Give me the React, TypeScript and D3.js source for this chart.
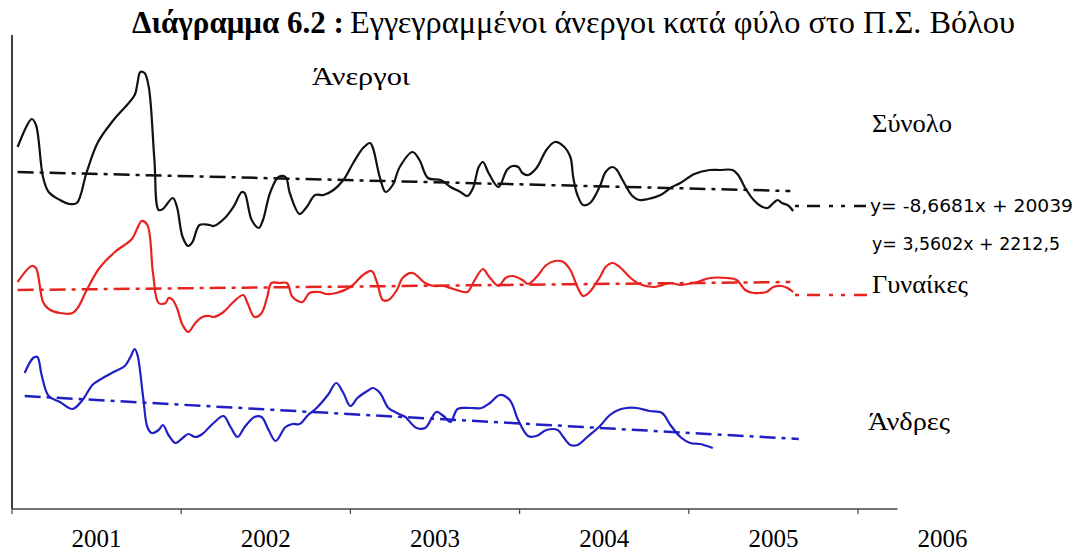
import React from "react";
import * as d3 from "d3";

// Month offset (0 = start of 2001) and relative level (no y-axis scale shown)
const totalSeries: [number, number][] = [
  [0.4, 362], [1.4, 390], [1.7, 384], [2.2, 332], [2.6, 317], [3.4, 309], [4.1, 305], [4.6, 306],
  [5.3, 337], [6.1, 367], [7.2, 389], [8.7, 414], [8.9, 426], [9.1, 437], [9.4, 436], [9.7, 422],
  [10.1, 349], [10.4, 299], [10.7, 300], [11.4, 311], [11.7, 302], [12.1, 272], [12.5, 263], [12.8, 267],
  [13.3, 284], [14.0, 284], [14.3, 283], [15.1, 291], [15.7, 302], [16.3, 317], [16.5, 316], [17.0, 289],
  [17.5, 281], [17.8, 289], [18.3, 316], [18.9, 332], [19.4, 332], [19.7, 316], [20.4, 295], [20.9, 302],
  [21.5, 314], [22.1, 314], [22.8, 319], [23.5, 329], [24.2, 346], [24.9, 361], [25.4, 366], [25.6, 361],
  [26.1, 331], [26.5, 317], [27.0, 324], [27.5, 342], [28.4, 357], [28.9, 349], [29.5, 331], [30.4, 329],
  [31.1, 322], [31.8, 317], [32.3, 313], [32.7, 321], [33.1, 342], [33.4, 347], [33.8, 336], [34.5, 322],
  [35.1, 339], [35.5, 343], [35.9, 342], [36.2, 336], [36.6, 334], [37.2, 341], [37.9, 359], [38.5, 367],
  [39.1, 363], [39.6, 352], [39.8, 332], [40.1, 314], [40.5, 304], [41.0, 306], [41.7, 323], [42.1, 337],
  [42.6, 342], [42.9, 339], [43.3, 329], [44.0, 313], [44.5, 309], [45.1, 310], [46.0, 314], [46.8, 322],
  [47.4, 326], [48.4, 335], [49.5, 339], [50.2, 339], [51.1, 339], [51.5, 334], [52.0, 321], [52.6, 309],
  [53.1, 303], [53.6, 301], [54.0, 306], [54.3, 309], [54.6, 306], [55.0, 304], [55.4, 298],
];

const womenSeries: [number, number][] = [
  [0.4, 227], [1.4, 243], [1.7, 241], [2.2, 207], [2.6, 200], [3.4, 196], [4.3, 196], [4.7, 202],
  [5.3, 219], [6.2, 241], [7.3, 257], [8.5, 270], [8.9, 281], [9.2, 288], [9.6, 284], [10.0, 236],
  [10.4, 206], [10.9, 206], [11.1, 211], [11.4, 209], [11.7, 201], [12.1, 184], [12.5, 177], [13.0, 186],
  [13.5, 192], [14.0, 193], [14.3, 192], [15.0, 197], [15.7, 207], [16.4, 214], [16.7, 206], [17.2, 192],
  [17.7, 196], [18.1, 212], [18.4, 226], [19.0, 226], [19.5, 226], [19.9, 212], [20.6, 207], [21.1, 216],
  [21.8, 217], [22.3, 215], [23.0, 216], [24.0, 222], [24.9, 234], [25.5, 238], [25.9, 226], [26.3, 209],
  [26.7, 209], [27.3, 219], [27.7, 231], [28.4, 236], [29.3, 226], [29.9, 223], [30.6, 223], [31.3, 220],
  [32.3, 217], [32.7, 226], [33.4, 240], [33.8, 233], [34.5, 223], [35.0, 231], [35.5, 233], [36.2, 229],
  [36.6, 225], [37.2, 232], [37.9, 244], [38.5, 248], [39.1, 247], [39.6, 239], [40.1, 222], [40.5, 213],
  [40.9, 216], [41.7, 232], [42.1, 242], [42.6, 246], [43.1, 242], [43.8, 232], [44.5, 225], [45.5, 222],
  [46.7, 226], [47.4, 224], [48.6, 227], [49.5, 231], [50.7, 231], [51.4, 229], [52.0, 219], [52.6, 216],
  [53.0, 216], [53.5, 217], [54.0, 222], [54.6, 223], [55.0, 221], [55.4, 217],
];

const menSeries: [number, number][] = [
  [0.9, 136], [1.5, 151], [1.8, 152], [2.1, 134], [2.6, 113], [3.4, 107], [4.3, 100], [5.0, 109],
  [5.7, 124], [6.2, 129], [7.2, 137], [8.0, 143], [8.4, 152], [8.7, 160], [8.9, 154], [9.3, 112],
  [9.6, 82], [9.9, 76], [10.4, 79], [10.7, 84], [11.1, 74], [11.6, 66], [12.1, 71], [12.5, 75],
  [13.0, 72], [13.5, 75], [14.0, 82], [14.3, 86], [15.0, 93], [15.5, 82], [16.0, 72], [16.5, 82],
  [17.2, 92], [17.7, 92], [18.2, 79], [18.7, 68], [19.4, 82], [19.9, 85], [20.4, 85], [21.0, 94],
  [21.6, 101], [22.4, 114], [23.0, 126], [23.5, 116], [24.0, 103], [24.5, 111], [25.2, 118], [25.6, 121],
  [26.1, 116], [26.7, 101], [27.3, 96], [27.9, 92], [28.1, 89], [28.7, 81], [29.3, 81], [30.1, 97],
  [30.6, 93], [31.1, 87], [31.6, 100], [32.5, 101], [33.3, 101], [33.9, 106], [34.6, 114], [35.3, 109],
  [35.9, 89], [36.6, 73], [37.2, 73], [37.9, 79], [38.7, 79], [39.1, 72], [39.6, 64], [40.1, 64],
  [40.8, 72], [41.7, 83], [42.4, 94], [43.0, 99], [43.6, 101], [44.3, 101], [45.2, 98], [46.1, 96],
  [46.7, 84], [47.4, 72], [48.1, 66], [48.8, 65], [49.7, 61],
];

// Linear trend lines (start / end)
const totalTrend: [number, number][] = [[0.4, 337], [55.2, 318]];
const womenTrend: [number, number][] = [[0.4, 219], [55.2, 227]];
const menTrend: [number, number][] = [[0.9, 113], [55.8, 70]];

const yearTicks = [0, 12, 24, 36, 48, 60];
const yearLabels = ["2001", "2002", "2003", "2004", "2005", "2006"];

const titleBold = "Διάγραμμα 6.2 :";
const titleRest = "Εγγεγραμμένοι άνεργοι κατά φύλο στο Π.Σ. Βόλου";
const chartLabel = "Άνεργοι";
const seriesNames = ["Σύνολο", "Γυναίκες", "Άνδρες"];
const equations = ["y= -8,6681x + 20039", "y= 3,5602x + 2212,5"];

const W = 1084;
const H = 554;

export default function App() {
  const x = d3.scaleLinear().domain([0, 72]).range([12, 12 + 72 * 14.1]);
  const y = d3.scaleLinear().domain([0, 474]).range([509, 35]);
  const line = d3
    .line<[number, number]>()
    .x((d) => x(d[0]))
    .y((d) => y(d[1]))
    .curve(d3.curveCatmullRom.alpha(0.5));
  const straight = d3
    .line<[number, number]>()
    .x((d) => x(d[0]))
    .y((d) => y(d[1]));

  const serif = "'Liberation Serif', 'Times New Roman', serif";
  const sans = "'DejaVu Sans', Verdana, sans-serif";
  const dash = "16 6 4 6";
  const axisEnd = x(62.8);

  const BLACK = "#111";
  const RED = "#e8231f";
  const BLUE = "#1f1fc4";

  const series = [
    { data: totalSeries, trend: totalTrend, color: BLACK },
    { data: womenSeries, trend: womenTrend, color: RED },
    { data: menSeries, trend: menTrend, color: BLUE },
  ];

  const fit = { lengthAdjust: "spacingAndGlyphs" as const };

  return (
    <svg
      width={W}
      height={H}
      style={{ position: "absolute", left: 0, top: 0, background: "#fff" }}
    >
      <rect width={W} height={H} fill="#fff" />
      <text x={132} y={33} fontFamily={serif} fontSize={31} fontWeight="bold" fill="#000">
        {titleBold}
      </text>
      <text x={350} y={33} fontFamily={serif} fontSize={31} fill="#000" textLength={665} {...fit}>
        {titleRest}
      </text>
      <text x={312} y={85} fontFamily={serif} fontSize={26} fill="#000" textLength={98} {...fit}>
        {chartLabel}
      </text>

      {/* axes */}
      <line x1={x(0)} x2={x(0)} y1={35} y2={y(0)} stroke="#000" strokeWidth={1.5} />
      <line x1={x(0)} x2={axisEnd} y1={y(0)} y2={y(0)} stroke="#444" strokeWidth={1.5} />
      {yearTicks.map((t) => (
        <line key={t} x1={x(t)} x2={x(t)} y1={y(0)} y2={y(0) + 5} stroke="#444" strokeWidth={1.2} />
      ))}
      {yearLabels.map((lab, i) => (
        <text
          key={lab}
          x={x(i * 12 + 6)}
          y={547}
          textAnchor="middle"
          fontFamily={serif}
          fontSize={25}
          fill="#000"
        >
          {lab}
        </text>
      ))}

      {series.map((s, i) => (
        <g key={i}>
          <path d={straight(s.trend) || ""} fill="none" stroke={s.color} strokeWidth={2.5} strokeDasharray={dash} />
          <path d={line(s.data) || ""} fill="none" stroke={s.color} strokeWidth={2.2} strokeLinejoin="round" />
        </g>
      ))}

      {/* equation leaders */}
      <line x1={795} x2={866} y1={206} y2={206} stroke={BLACK} strokeWidth={2.5} strokeDasharray="4 8 13 9 4 8 4 9 13" />
      <line x1={795} x2={867} y1={295} y2={295} stroke={RED} strokeWidth={2.5} strokeDasharray="4 8 13 9 4 8 4 9 13" />

      <text x={872} y={132} fontFamily={serif} fontSize={26} fill="#000" textLength={80} {...fit}>{seriesNames[0]}</text>
      <text x={872} y={293} fontFamily={serif} fontSize={26} fill="#000" textLength={96} {...fit}>{seriesNames[1]}</text>
      <text x={868} y={430} fontFamily={serif} fontSize={26} fill="#000" textLength={82} {...fit}>{seriesNames[2]}</text>
      <text x={870} y={212} fontFamily={sans} fontSize={18} fill="#000" textLength={203} {...fit}>{equations[0]}</text>
      <text x={872} y={250} fontFamily={sans} fontSize={18} fill="#000" textLength={188} {...fit}>{equations[1]}</text>
    </svg>
  );
}
